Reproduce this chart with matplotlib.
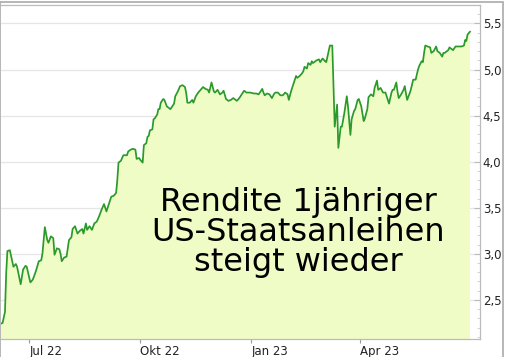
import matplotlib
matplotlib.use("Agg")
import matplotlib.pyplot as plt
from matplotlib.patches import Rectangle
from matplotlib.ticker import MultipleLocator, FuncFormatter
import pandas as pd

# days counted from 1 June 2022, yield in percent
day_offsets = [6, 8, 10, 11, 12, 14, 16, 17, 19, 20, 23, 25, 27, 28, 31, 33, 35, 36, 38, 40,
               41, 43, 45, 46, 48, 50, 51, 53, 55, 56, 57, 59, 61, 63, 65, 66, 68, 70, 72, 74,
               75, 77, 78, 80, 82, 84, 86, 88, 90, 92, 94, 95, 98, 100, 102, 103, 104, 106, 108, 111,
               112, 114, 116, 118, 119, 121, 122, 124, 125, 127, 128, 129, 130, 132, 133, 134, 136, 137, 138, 139,
               141, 142, 144, 145, 147, 150, 151, 153, 155, 157, 159, 160, 161, 163, 165, 166, 168, 170, 172, 174,
               176, 178, 179, 181, 183, 184, 186, 188, 190, 191, 193, 195, 197, 199, 202, 204, 206, 208, 210, 213,
               216, 218, 220, 221, 223, 224, 225, 227, 229, 231, 233, 234, 236, 238, 240, 242, 244, 245, 247, 248,
               250, 251, 252, 254, 256, 257, 258, 260, 261, 263, 264, 265, 268, 270, 271, 273, 275, 276, 278, 279,
               281, 282, 283, 285, 286, 288, 289, 291, 293, 294, 296, 297, 299, 300, 302, 303, 305, 307, 308, 310,
               311, 313, 315, 316, 318, 319, 321, 323, 325, 326, 328, 330, 331, 332, 334, 335, 336, 338, 340, 341,
               342, 343, 345, 346, 348, 350, 352, 353, 355, 356, 357, 358, 360, 362, 363, 365, 367, 368, 370, 372,
               373, 374, 377, 378, 380, 381, 383, 385, 388, 390, 391, 392, 393, 395]
yields = [2.24, 2.25, 2.37, 2.79, 3.03, 3.04, 2.92, 2.86, 2.89, 2.86, 2.67, 2.83, 2.87, 2.86, 2.69, 2.72, 2.79, 2.83, 2.92, 2.93,
          3.00, 3.29, 3.15, 3.12, 3.19, 3.17, 2.99, 3.06, 3.05, 3.00, 2.92, 2.96, 2.97, 3.15, 3.18, 3.27, 3.30, 3.22, 3.25, 3.27,
          3.22, 3.33, 3.26, 3.30, 3.26, 3.33, 3.35, 3.41, 3.48, 3.54, 3.46, 3.50, 3.62, 3.63, 3.66, 3.80, 3.99, 4.01, 4.07, 4.07,
          4.11, 4.13, 4.14, 4.13, 4.03, 4.04, 4.02, 3.99, 4.18, 4.20, 4.27, 4.28, 4.34, 4.35, 4.46, 4.47, 4.51, 4.57, 4.57, 4.64,
          4.68, 4.67, 4.60, 4.59, 4.57, 4.63, 4.71, 4.76, 4.82, 4.83, 4.81, 4.75, 4.64, 4.64, 4.67, 4.64, 4.71, 4.75, 4.78, 4.81,
          4.79, 4.78, 4.75, 4.86, 4.76, 4.75, 4.78, 4.73, 4.75, 4.77, 4.68, 4.66, 4.67, 4.69, 4.66, 4.69, 4.73, 4.77, 4.75, 4.75,
          4.74, 4.74, 4.73, 4.75, 4.79, 4.75, 4.72, 4.74, 4.73, 4.69, 4.74, 4.75, 4.75, 4.72, 4.72, 4.75, 4.73, 4.67, 4.77, 4.81,
          4.89, 4.93, 4.91, 4.93, 4.96, 4.98, 5.03, 5.01, 5.07, 5.05, 5.09, 5.07, 5.10, 5.11, 5.08, 5.12, 5.09, 5.08, 5.20, 5.26,
          5.26, 4.80, 4.38, 4.62, 4.15, 4.38, 4.38, 4.53, 4.71, 4.60, 4.29, 4.46, 4.55, 4.57, 4.67, 4.68, 4.60, 4.44, 4.47, 4.57,
          4.70, 4.73, 4.71, 4.80, 4.88, 4.78, 4.80, 4.75, 4.75, 4.71, 4.63, 4.75, 4.78, 4.78, 4.86, 4.76, 4.69, 4.73, 4.78, 4.82,
          4.74, 4.67, 4.74, 4.78, 4.89, 4.89, 5.00, 5.04, 5.09, 5.08, 5.18, 5.26, 5.25, 5.24, 5.18, 5.20, 5.25, 5.20, 5.18, 5.14,
          5.18, 5.18, 5.21, 5.24, 5.22, 5.21, 5.25, 5.25, 5.25, 5.26, 5.32, 5.31, 5.38, 5.41]

tick_dates = ["2022-07-01", "2022-10-01", "2023-01-01", "2023-04-01"]
tick_labels = ["Jul 22", "Okt 22", "Jan 23", "Apr 23"]
y_ticks = [2.5, 3.0, 3.5, 4.0, 4.5, 5.0, 5.5]
headline = "Rendite 1jähriger\nUS-Staatsanleihen\nsteigt wieder"

base = pd.Timestamp("2022-06-01")
dates = base + pd.to_timedelta(day_offsets, unit="D")

fig = plt.figure(figsize=(5.06, 3.57), dpi=100)
ax = fig.add_axes([1 / 506, 18 / 357, 479 / 506, 334 / 357])

ax.fill_between(dates, yields, 0, color="#f0fcc6", lw=0)
ax.plot(dates, yields, color="#2a9a2a", lw=1.25)

ax.set_xlim(base + pd.Timedelta(days=6.7), base + pd.Timedelta(days=403.3))
ax.set_ylim(2.076, 5.7)

# grid
for v in y_ticks:
    ax.axhline(v, color="#e6e6e6", lw=0.9, zorder=0)

ax.set_xticks(pd.to_datetime(tick_dates))
ax.set_xticklabels(tick_labels, ha="left")
ax.set_yticks(y_ticks)
ax.yaxis.set_major_formatter(FuncFormatter(lambda v, p: f"{v:.1f}".replace(".", ",")))
ax.yaxis.set_minor_locator(MultipleLocator(0.1))
ax.yaxis.tick_right()

ax.tick_params(axis="x", length=3, color="#999999", labelsize=8.5, labelcolor="#222222", pad=1)
ax.tick_params(axis="y", which="major", direction="in", length=4, color="#bbbbbb",
               labelsize=8.5, labelcolor="#222222", pad=2)
ax.tick_params(axis="y", which="minor", direction="in", length=2, color="#cccccc")
for lab in ax.get_yticklabels():
    lab.set_horizontalalignment("left")

ax.spines["left"].set_visible(False)
for s in ["top", "right", "bottom"]:
    ax.spines[s].set_color("#bbbbbb")
    ax.spines[s].set_linewidth(0.9)

ax.text(0.62, 0.318, headline, transform=ax.transAxes, ha="center", va="center",
        fontsize=23, linespacing=0.95, color="black", family="DejaVu Sans")

# outer frame (no bottom edge visible)
fig.patches.append(Rectangle((0.5 / 506, -0.02), 503 / 506, 1.0155,
                             transform=fig.transFigure, fill=False, edgecolor="#aaaaaa", lw=1.2))

fig.savefig("out.png", dpi=100)
